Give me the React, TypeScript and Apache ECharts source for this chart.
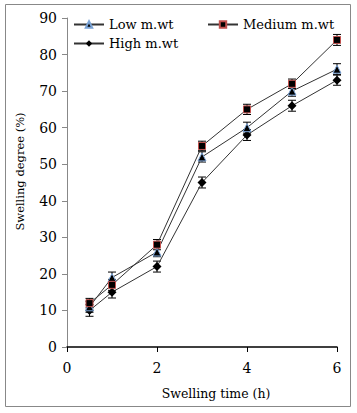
import React, { useEffect, useRef } from "react";
import * as echarts from "echarts";

const times = [0.5, 1, 2, 3, 4, 5, 6];
const lowValues = [11, 19, 26, 52, 60, 70, 76];
const mediumValues = [12, 17, 28, 55, 65, 72, 84];
const highValues = [10, 15, 22, 45, 58, 66, 73];
const lowErr = [1.5, 1.5, 1.3, 1.4, 1.5, 1.4, 1.5];
const mediumErr = [1.3, 1.5, 1.4, 1.3, 1.4, 1.3, 1.5];
const highErr = [1.6, 1.6, 1.5, 1.5, 1.5, 1.5, 1.4];
const seriesNames = ["Low m.wt", "Medium m.wt", "High m.wt"];

const FONT = "DejaVu Serif";

function pairs(vals: number[]) {
  return times.map((t, i) => [t, vals[i]]);
}
function errData(vals: number[], errs: number[]) {
  return times.map((t, i) => [t, vals[i] - errs[i], vals[i] + errs[i]]);
}

function errorSeries(name: string, vals: number[], errs: number[]) {
  return {
    type: "custom",
    name: name + " err",
    data: errData(vals, errs),
    silent: true,
    z: 1,
    renderItem: (params: any, api: any) => {
      const x = api.value(0);
      const lo = api.coord([x, api.value(1)]);
      const hi = api.coord([x, api.value(2)]);
      const w = 4;
      const st = { stroke: "#000", lineWidth: 1 };
      return {
        type: "group",
        children: [
          { type: "line", shape: { x1: lo[0], y1: lo[1], x2: hi[0], y2: hi[1] }, style: st },
          { type: "line", shape: { x1: lo[0] - w, y1: lo[1], x2: lo[0] + w, y2: lo[1] }, style: st },
          { type: "line", shape: { x1: hi[0] - w, y1: hi[1], x2: hi[0] + w, y2: hi[1] }, style: st },
        ],
      };
    },
  };
}

export default function App() {
  const ref = useRef<HTMLDivElement>(null);
  useEffect(() => {
    if (!ref.current) return;
    const chart = echarts.init(ref.current, null, { renderer: "svg" });
    const legendText = { fontFamily: FONT, fontSize: 13, color: "#000" };
    const legendBase = { padding: 0, itemWidth: 30, itemHeight: 8, itemGap: 0, textStyle: legendText };
    chart.setOption({
      animation: false,
      backgroundColor: "#fff",
      textStyle: { fontFamily: FONT },
      grid: { left: 67, right: 20, top: 18, bottom: 66, containLabel: false },
      legend: [
        { ...legendBase, data: [seriesNames[0]], left: 73, top: 18 },
        { ...legendBase, data: [seriesNames[1]], left: 207, top: 18 },
        { ...legendBase, data: [seriesNames[2]], left: 73, top: 37 },
      ],
      xAxis: {
        type: "value",
        min: 0,
        max: 6,
        interval: 2,
        name: "Swelling time (h)",
        nameLocation: "middle",
        nameGap: 40,
        nameTextStyle: { fontFamily: FONT, fontSize: 12.5, color: "#000", padding: [0, 0, 0, 28] },
        axisLine: { lineStyle: { color: "#000", width: 1.5 } },
        axisTick: { show: true, length: 5, lineStyle: { color: "#000" } },
        axisLabel: { fontFamily: FONT, fontSize: 14, color: "#000", margin: 14 },
        splitLine: { show: false },
      },
      yAxis: {
        type: "value",
        min: 0,
        max: 90,
        interval: 10,
        name: "Swelling degree (%)",
        nameLocation: "middle",
        nameGap: 41,
        nameTextStyle: { fontFamily: FONT, fontSize: 11.5, color: "#000", padding: [0, 0, 0, 22] },
        axisLine: { show: true, lineStyle: { color: "#888", width: 1 } },
        axisTick: { show: true, length: 5, lineStyle: { color: "#888" } },
        axisLabel: { fontFamily: FONT, fontSize: 14, color: "#000", margin: 10 },
        splitLine: { show: false },
      },
      series: [
        errorSeries(seriesNames[0], lowValues, lowErr),
        errorSeries(seriesNames[1], mediumValues, mediumErr),
        errorSeries(seriesNames[2], highValues, highErr),
        {
          type: "line",
          name: seriesNames[0],
          data: pairs(lowValues),
          symbol: "triangle",
          symbolSize: 8,
          lineStyle: { color: "#333", width: 1 },
          itemStyle: { color: "#000", borderColor: "#7aa3d6", borderWidth: 1 },
          z: 3,
        },
        {
          type: "line",
          name: seriesNames[1],
          data: pairs(mediumValues),
          symbol: "rect",
          symbolSize: 7,
          lineStyle: { color: "#333", width: 1 },
          itemStyle: { color: "#000", borderColor: "#c0504d", borderWidth: 1 },
          z: 4,
        },
        {
          type: "line",
          name: seriesNames[2],
          data: pairs(highValues),
          symbol: "diamond",
          symbolSize: 9,
          lineStyle: { color: "#333", width: 1 },
          itemStyle: { color: "#000", borderColor: "#000", borderWidth: 0 },
          z: 2,
        },
      ],
      graphic: [
        {
          type: "rect",
          shape: { x: 5.5, y: 4.5, width: 345, height: 402 },
          style: { fill: "none", stroke: "#888", lineWidth: 1 },
          silent: true,
          z: -1,
        },
      ],
    });
    return () => chart.dispose();
  }, []);
  return (
    <div
      ref={ref}
      style={{ position: "fixed", left: 0, top: 0, width: 357, height: 413 }}
    />
  );
}
